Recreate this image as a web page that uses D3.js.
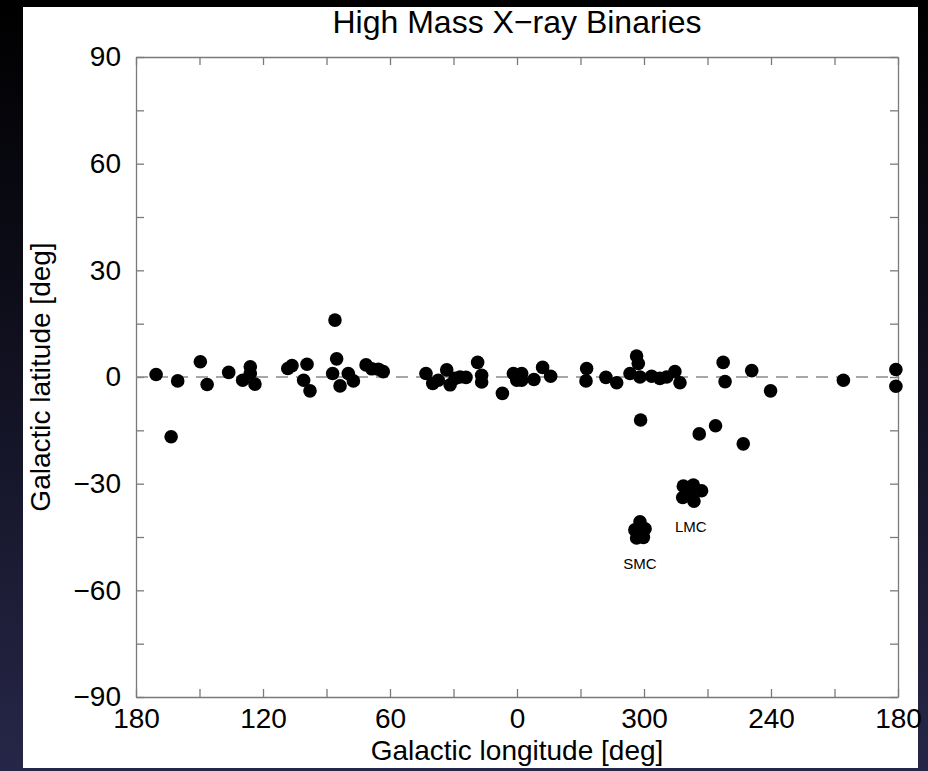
<!DOCTYPE html>
<html>
<head>
<meta charset="utf-8">
<script src="https://cdn.jsdelivr.net/npm/d3@7"></script>
<style>
  html, body { margin: 0; padding: 0; background: #000; }
  svg { display: block; }
  text { font-family: "Liberation Sans", Arial, Helvetica, sans-serif; fill: #000; }
</style>
</head>
<body>
<div id="chart"></div>
<script>
// galactic longitude (deg, 0-360) and latitude (deg) of the sources near the plane
const planeLon = [170.5, 163.4, 160.3, 149.6, 146.4, 136.2, 126.0, 126.0, 129.6, 123.8,
    108.3, 106.3, 99.2, 100.8, 97.8, 86.0, 85.2, 87.1, 83.6, 79.7,
    77.3, 71.3, 68.6, 65.5, 63.2, 43.0, 39.8, 37.2, 33.2, 31.6,
    29.3, 26.9, 24.1, 18.6, 16.7, 16.7, 6.9, 1.7, 0.1, 357.8,
    357.8, 352.0, 347.9, 344.1, 327.1, 327.4, 318.0, 312.9, 303.5, 302.7,
    306.6, 301.9, 301.6, 296.4, 292.5, 289.3, 285.4, 283.0, 262.6, 261.7,
    249.1, 240.2, 205.8, 181.0, 181.0, 273.9, 266.2, 253.1];
const planeLat = [0.7, -16.8, -1.1, 4.3, -2.1, 1.3, 2.9, 1.0, -0.9, -2.0,
    2.4, 3.2, 3.6, -0.9, -3.9, 16.0, 5.1, 1.0, -2.5, 1.0,
    -1.1, 3.4, 2.3, 2.2, 1.5, 1.0, -1.8, -0.9, 2.0, -2.2,
    -0.4, 0.0, -0.1, 4.1, 0.5, -1.4, -4.6, 1.0, -0.9, 1.0,
    -0.9, -0.7, 2.7, 0.2, 2.4, -1.1, -0.1, -1.6, 5.9, 3.8,
    1.0, 0.0, -12.1, 0.2, -0.4, 0.0, 1.5, -1.6, 4.1, -1.3,
    1.8, -3.9, -0.9, 2.1, -2.6, -16.0, -13.7, -18.8];

// Large Magellanic Cloud sources
const lmcLon = [281.4, 276.7, 272.8, 281.7, 276.4, 278.3];
const lmcLat = [-30.7, -30.4, -32.0, -33.9, -34.9, -32.7];

// Small Magellanic Cloud sources
const smcLon = [301.9, 304.3, 299.5, 303.5, 300.3];
const smcLat = [-40.7, -43.0, -42.7, -45.3, -45.1];

const W = 928, H = 771;
const margin = ({top: 57, right: 30, bottom: 74, left: 136});

// longitudes above 180 go to the right of 0
const wrapLon = l => (l > 180 ? l - 360 : l);
const fmtLon = d => String(d < 0 ? d + 360 : d);
const fmtLat = d => (d < 0 ? "\u2212" + Math.abs(d) : String(d));

const x = d3.scaleLinear()
    .domain([180, -180])
    .range([margin.left, W - margin.right]);

const y = d3.scaleLinear()
    .domain([-90, 90])
    .range([H - margin.bottom, margin.top]);

const svg = d3.select("#chart")
    .append("svg")
    .attr("width", W)
    .attr("height", H);

// dark backdrop behind the white page
const grad = svg.append("defs").append("linearGradient")
    .attr("id", "bg")
    .attr("x1", 0).attr("y1", 0).attr("x2", 0).attr("y2", 1);
grad.append("stop").attr("offset", "0%").attr("stop-color", "#000000");
grad.append("stop").attr("offset", "45%").attr("stop-color", "#10101f");
grad.append("stop").attr("offset", "100%").attr("stop-color", "#262648");

svg.append("rect")
    .attr("width", W).attr("height", H)
    .attr("fill", "url(#bg)");

svg.append("rect")
    .attr("x", 23).attr("y", 7)
    .attr("width", 895).attr("height", 761)
    .attr("fill", "#ffffff");

const xTicks = d3.range(180, -181, -30);
const yTicks = d3.range(-90, 91, 15);

function styleAxis(g) {
    g.selectAll(".domain, .tick line")
        .attr("stroke", "#7a7a7a")
        .attr("stroke-width", 1.3);
    g.selectAll("text")
        .style("font-size", "28px")
        .attr("fill", "#000");
}

svg.append("g")
    .attr("transform", `translate(0,${y(-90)})`)
    .call(d3.axisBottom(x).tickValues(xTicks).tickSize(-8).tickSizeOuter(0).tickPadding(11)
        .tickFormat(d => (d % 60 === 0 ? fmtLon(d) : "")))
    .call(styleAxis);

svg.append("g")
    .attr("transform", `translate(0,${y(90)})`)
    .call(d3.axisTop(x).tickValues(xTicks).tickSize(-8).tickSizeOuter(0).tickFormat(""))
    .call(styleAxis);

svg.append("g")
    .attr("transform", `translate(${x(180)},0)`)
    .call(d3.axisLeft(y).tickValues(yTicks).tickSize(-8).tickSizeOuter(0).tickPadding(15)
        .tickFormat(d => (d % 30 === 0 ? fmtLat(d) : "")))
    .call(styleAxis);

svg.append("g")
    .attr("transform", `translate(${x(-180)},0)`)
    .call(d3.axisRight(y).tickValues(yTicks).tickSize(-8).tickSizeOuter(0).tickFormat(""))
    .call(styleAxis);

// galactic plane
svg.append("line")
    .attr("x1", x(180)).attr("x2", x(-180))
    .attr("y1", y(0)).attr("y2", y(0))
    .attr("stroke", "#8a8a8a")
    .attr("stroke-width", 1.5)
    .attr("stroke-dasharray", "12,8");

const points = [];
planeLon.forEach((l, i) => points.push([l, planeLat[i]]));
lmcLon.forEach((l, i) => points.push([l, lmcLat[i]]));
smcLon.forEach((l, i) => points.push([l, smcLat[i]]));

svg.append("g")
    .selectAll("circle")
    .data(points)
    .join("circle")
    .attr("cx", d => x(wrapLon(d[0])))
    .attr("cy", d => y(d[1]))
    .attr("r", 6.8)
    .attr("fill", "#000");

// cloud labels
svg.append("text")
    .attr("x", x(wrapLon(d3.mean(lmcLon))))
    .attr("y", y(d3.min(lmcLat)) + 31)
    .attr("text-anchor", "middle")
    .style("font-size", "15px")
    .text("LMC");

svg.append("text")
    .attr("x", x(wrapLon(d3.mean(smcLon))))
    .attr("y", y(d3.min(smcLat)) + 31)
    .attr("text-anchor", "middle")
    .style("font-size", "15px")
    .text("SMC");

// title and axis labels
svg.append("text")
    .attr("x", (x(180) + x(-180)) / 2)
    .attr("y", 33)
    .attr("text-anchor", "middle")
    .style("font-size", "32px")
    .text("High Mass X\u2212ray Binaries");

svg.append("text")
    .attr("x", (x(180) + x(-180)) / 2)
    .attr("y", 760)
    .attr("text-anchor", "middle")
    .style("font-size", "28px")
    .text("Galactic longitude [deg]");

svg.append("text")
    .attr("transform", "rotate(-90)")
    .attr("x", -y(0))
    .attr("y", 50)
    .attr("text-anchor", "middle")
    .style("font-size", "28px")
    .text("Galactic latitude [deg]");
</script>
</body>
</html>
